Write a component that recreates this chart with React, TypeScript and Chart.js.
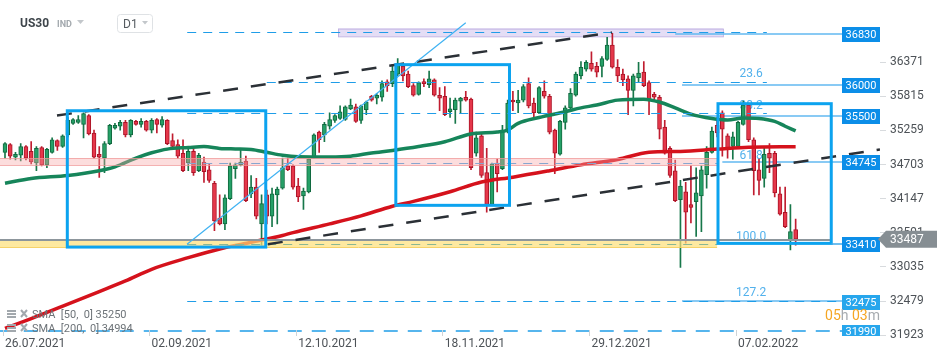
import React, { useEffect, useRef } from 'react';
import { Chart, registerables } from 'chart.js';

Chart.register(...registerables);

// ---------- daily candles (US30, D1) ----------
const openPrices = [
  34902, 35028, 34823, 34854, 34996, 34917, 34728, 34980, 34697, 34902,
  35091, 34996, 35185, 35374, 35390, 35358, 35500, 35217, 34870, 34807,
  35043, 35295, 35327, 35390, 35185, 35406, 35358, 35406, 35264, 35437,
  35343, 35421, 35091, 35028, 34886, 34728, 34917, 34602, 34744, 34618,
  34398, 33831, 33736, 34146, 34634, 34697, 34760, 34224, 34335, 33736,
  34209, 33862, 34209, 34319, 34681, 34681, 34350, 34193, 34256, 34823,
  35232, 35185, 35327, 35421, 35453, 35437, 35610, 35642, 35421, 35595,
  35815, 35784, 35799, 36051, 36020, 36177, 36303, 36177, 35988, 35847,
  36051, 36004, 36083, 35831, 35815, 35563, 35595, 35736, 35799, 35768,
  34886, 35169, 34571, 34051, 34728, 34634, 35248, 35752, 35705, 35752,
  36020, 35705, 35547, 35894, 35815, 35264, 34870, 35390, 35626, 35831,
  36146, 36256, 36351, 36303, 36303, 36414, 36650, 36288, 36177, 36099,
  35910, 36114, 36209, 36036, 35847, 35799, 35311, 34965, 34602, 34130,
  34256, 34051, 34098, 34193, 34539, 34902, 35343, 35547, 35169, 34996,
  34996, 35358, 35673, 35106, 34618, 34476, 34886, 34886, 34224, 33925, 33468, 33642,
];
const highPrices = [
  35059, 35043, 34902, 35043, 35012, 35075, 34996, 34996, 34965, 35138,
  35106, 35185, 35469, 35453, 35500, 35547, 35516, 35264, 34996, 35075,
  35358, 35374, 35421, 35421, 35437, 35421, 35453, 35421, 35453, 35453,
  35484, 35437, 35201, 35106, 35106, 34949, 34996, 34886, 34823, 34713,
  34429, 34209, 34209, 34728, 34728, 34965, 34839, 34524, 34476, 34209,
  34287, 34319, 34335, 34807, 34807, 34697, 34476, 34319, 34807, 35201,
  35248, 35390, 35547, 35516, 35658, 35658, 35768, 35689, 35673, 35736,
  35831, 35862, 36067, 36083, 36335, 36429, 36335, 36225, 36020, 36051,
  36099, 36225, 36099, 35957, 35973, 35784, 35784, 35799, 35894, 35784,
  35232, 35217, 34965, 34728, 34791, 35343, 35752, 35894, 35910, 36004,
  36114, 35784, 35973, 36067, 35847, 35280, 35421, 35658, 35941, 36209,
  36382, 36398, 36540, 36366, 36461, 36776, 36839, 36414, 36256, 36146,
  36177, 36366, 36382, 36067, 35878, 35831, 35421, 34996, 34776, 34445,
  34413, 34681, 34650, 34681, 34996, 35311, 35469, 35579, 35201, 35232,
  35406, 35736, 35705, 35138, 34791, 34965, 35043, 34917, 34335, 34335, 34051, 33815,
];
const lowPrices = [
  34807, 34791, 34776, 34760, 34776, 34713, 34602, 34681, 34650, 34886,
  34933, 34980, 35154, 35358, 35374, 35138, 35185, 34807, 34492, 34571,
  35028, 35280, 35264, 35154, 35154, 35343, 35311, 35248, 35217, 35217,
  35311, 35028, 34949, 34807, 34587, 34602, 34524, 34587, 34413, 34413,
  33626, 33720, 33642, 34130, 34476, 34681, 34098, 34161, 33815, 33390,
  33736, 33689, 33736, 34303, 34602, 34303, 34098, 33972, 34240, 34807,
  34902, 35075, 35280, 35390, 35437, 35421, 35595, 35390, 35374, 35516,
  35736, 35689, 35736, 35894, 35973, 36146, 36067, 35957, 35815, 35831,
  35973, 35957, 35815, 35579, 35500, 35469, 35374, 35547, 35736, 34618,
  34839, 34492, 33925, 34035, 34256, 34618, 35217, 35579, 35547, 35721,
  35626, 35469, 35532, 35784, 35201, 34555, 34854, 35280, 35610, 35815,
  36099, 36225, 36225, 36130, 36130, 36398, 36272, 36051, 35988, 35516,
  35658, 36051, 35973, 35516, 35736, 35122, 34870, 34492, 34098, 33027,
  33421, 33752, 33531, 33610, 34319, 34886, 35154, 34839, 34807, 34791,
  34965, 35343, 35075, 34209, 34209, 34335, 34571, 34177, 33878, 33673, 33311, 33390,
];
const closePrices = [
  35043, 34839, 34870, 34996, 34807, 34744, 34965, 34697, 34949, 35106,
  34996, 35169, 35421, 35437, 35437, 35532, 35201, 34823, 34823, 35043,
  35343, 35343, 35390, 35185, 35421, 35358, 35406, 35264, 35421, 35358,
  35437, 35043, 34996, 34839, 34602, 34917, 34571, 34854, 34587, 34445,
  33783, 33736, 34161, 34681, 34697, 34744, 34114, 34335, 33862, 34067,
  33862, 34224, 34303, 34650, 34618, 34335, 34177, 34272, 34791, 35185,
  35106, 35358, 35437, 35500, 35563, 35642, 35673, 35406, 35658, 35721,
  35752, 35831, 36020, 35988, 36225, 36335, 36146, 35973, 35831, 36036,
  36020, 36099, 35831, 35784, 35516, 35610, 35752, 35784, 35752, 34650,
  35138, 34524, 34051, 34713, 34555, 35232, 35705, 35721, 35752, 35973,
  35658, 35547, 35957, 35815, 35232, 34886, 35406, 35626, 35862, 36177,
  36288, 36366, 36256, 36209, 36429, 36650, 36288, 36146, 36083, 35910,
  36146, 36193, 35988, 35752, 35799, 35280, 34886, 34524, 34114, 34350,
  33925, 34004, 34240, 34618, 34902, 35248, 35217, 35280, 34949, 35154,
  35390, 35673, 35106, 34602, 34445, 34870, 34807, 34240, 33894, 33689, 33610, 33487,
];

// ---------- axes ----------
const xTickIndex = [0, 28, 56, 84, 112, 140];
const xTickLabels = ['26.07.2021', '02.09.2021', '12.10.2021', '18.11.2021', '29.12.2021', '07.02.2022'];
const yTickValues = [31923, 32479, 33035, 33591, 34147, 34703, 35259, 35815, 36371];

// ---------- moving averages (sampled readings) ----------
const sma50Index = [0, 5, 12, 18, 21, 25, 28, 31, 35, 38, 41, 44, 47, 50, 53, 56, 62, 66, 70, 74, 79, 84, 89, 94, 96, 98, 102, 107, 110, 113, 117, 122, 125, 128, 131, 135, 138, 141, 144, 147, 149, 151];
const sma50Values = [34398, 34476, 34524, 34602, 34665, 34807, 34894, 34954, 34980, 34996, 34965, 34957, 34949, 34902, 34854, 34831, 34827, 34839, 34891, 34933, 34996, 35075, 35201, 35232, 35264, 35374, 35469, 35563, 35626, 35673, 35752, 35768, 35721, 35626, 35524, 35453, 35429, 35461, 35453, 35406, 35327, 35250];
const sma200Index = [0, 5, 12, 18, 23, 28, 35, 41, 47, 53, 55, 62, 68, 74, 78, 85, 91, 97, 104, 110, 117, 123, 129, 136, 142, 151];
const sma200Values = [32035, 32193, 32429, 32634, 32807, 32996, 33185, 33327, 33437, 33547, 33594, 33736, 33867, 34024, 34103, 34260, 34418, 34497, 34602, 34697, 34786, 34902, 34917, 34954, 34985, 34994];
const smaLegend = ['SMA  [50,  0] 35250', 'SMA  [200,  0] 34994'];

// ---------- drawings (bar index, price) ----------
const tagPrices = [36830, 36000, 35500, 34745, 33410, 32475, 31990];
const fibLinePrices = [36830, 36000, 35500, 34745, 32475];
const fibLineStart = [128.0, 129.3, 129.3, 137.0, 129.3];
const fibLabels = ['23.6', '38.2', '61.8', '100.0', '127.2'];
const fibLabelPrices = [36130, 35610, 34799, 33476, 32555];
const dashedPrices = [36862, 36046, 35543, 34724, 33405, 32484, 31988];
const dashedFrom = [34.8, 50, 34.8, 34.8, 34.8, 34.8, -1];
const dashedTo = [145.5, 145.5, 145.5, 136, 136, 159.9, 159.9];
const boxStart = [11.9, 74.64, 136.17];
const boxEnd = [49.8, 96.35, 157.8];
const boxTop = [35579, 36330, 35694];
const boxBottom = [33358, 34038, 33418];
const pinkBand = [-1, 136, 34807, 34689];
const yellowBand = [-1, 136, 33473, 33358];
const grayLine = [-1, 157.8, 33473];
const lavenderBox = [63.6, 137.1, 36918, 36792];
const channelUpper = [9.93, 35500, 115.9, 36855];
const channelLower = [50.2, 33405, 167.1, 34949];
const trendLine = [34.76, 33405, 88.0, 37012];
const lastPrice = 33487;

const X_MIN = -0.955;
const X_MAX = 167.11;
const Y_MIN = 31909;
const Y_MAX = 37201;

const FONT = 'Roboto, "Noto Sans", sans-serif';

function hline(ctx: any, x1: number, x2: number, y: number, color: string, width: number, dash: number[]) {
  ctx.save();
  ctx.strokeStyle = color;
  ctx.lineWidth = width;
  ctx.setLineDash(dash);
  ctx.beginPath();
  const yy = Math.round(y) + (width % 2 === 1 ? 0.5 : 0);
  ctx.moveTo(x1, yy);
  ctx.lineTo(x2, yy);
  ctx.stroke();
  ctx.restore();
}

const overlayPlugin = {
  id: 'overlay',
  beforeDatasetsDraw(chart: any) {
    const { ctx, chartArea: a } = chart;
    const X = (v: number) => chart.scales.x.getPixelForValue(v);
    const Y = (v: number) => chart.scales.y.getPixelForValue(v);
    ctx.save();
    ctx.beginPath();
    ctx.rect(a.left, a.top, a.right - a.left, a.bottom - a.top);
    ctx.clip();
    // lavender zone
    const [l0, l1, lp0, lp1] = lavenderBox;
    ctx.fillStyle = 'rgba(210, 198, 238, 0.6)';
    ctx.fillRect(X(l0), Y(lp0), X(l1) - X(l0), Y(lp1) - Y(lp0));
    ctx.strokeStyle = '#c0b2e2';
    ctx.lineWidth = 1;
    ctx.strokeRect(X(l0) + 0.5, Y(lp0) + 0.5, X(l1) - X(l0), Y(lp1) - Y(lp0));
    // fibonacci levels
    fibLinePrices.forEach((p, k) => {
      hline(ctx, X(fibLineStart[k]), a.right - 38, Y(p), '#62b8f0', 1.5, []);
    });
    ctx.font = '12px ' + FONT;
    ctx.fillStyle = '#52b1ec';
    ctx.textAlign = 'center';
    ctx.textBaseline = 'alphabetic';
    fibLabels.forEach((t, k) => ctx.fillText(t, X(142.5), Y(fibLabelPrices[k])));
    ctx.restore();
  },
  afterDatasetsDraw(chart: any) {
    const { ctx, chartArea: a } = chart;
    const X = (v: number) => chart.scales.x.getPixelForValue(v);
    const Y = (v: number) => chart.scales.y.getPixelForValue(v);
    ctx.save();
    ctx.beginPath();
    ctx.rect(a.left, a.top, a.right - a.left, a.bottom - a.top);
    ctx.clip();

    // pink band
    {
      const [b0, b1, p0, p1] = pinkBand;
      ctx.fillStyle = 'rgba(246, 165, 165, 0.38)';
      ctx.fillRect(X(b0), Y(p0), X(b1) - X(b0), Y(p1) - Y(p0));
      hline(ctx, X(b0), X(b1), Y(p0), 'rgba(240,150,150,0.7)', 1, []);
      hline(ctx, X(b0), X(b1), Y(p1), 'rgba(240,150,150,0.7)', 1, []);
    }
    // yellow band
    {
      const [b0, b1, p0, p1] = yellowBand;
      ctx.fillStyle = 'rgba(253, 224, 120, 0.7)';
      ctx.fillRect(X(b0), Y(p0), X(b1) - X(b0), Y(p1) - Y(p0));
      hline(ctx, X(b0), X(b1), Y(p1), 'rgba(245,205,90,0.9)', 1, []);
    }
    // gray 100% line
    hline(ctx, X(grayLine[0]), X(grayLine[1]), Y(grayLine[2]), '#8d969c', 2, []);

    // dashed levels
    dashedPrices.forEach((p, k) => {
      let color = '#1f9de8';
      if (k === 3) color = '#86a6cf';
      if (k === 4) color = '#8ab793';
      const dash = k === 6 ? [14, 10] : [9, 7];
      const w = k === 6 ? 1.5 : 1;
      hline(ctx, X(dashedFrom[k]), X(dashedTo[k]), Y(p), color, w, dash);
    });

    // channel lines
    const seg = (s: number[], color: string, width: number, dash: number[]) => {
      ctx.save();
      ctx.strokeStyle = color;
      ctx.lineWidth = width;
      ctx.setLineDash(dash);
      ctx.beginPath();
      ctx.moveTo(X(s[0]), Y(s[1]));
      ctx.lineTo(X(s[2]), Y(s[3]));
      ctx.stroke();
      ctx.restore();
    };
    seg(channelUpper, '#2b3036', 2.5, [15, 13]);
    seg(channelLower, '#2b3036', 2.5, [15, 13]);
    seg(trendLine, '#3fb2f2', 1.2, []);

    // boxes
    ctx.strokeStyle = '#0ca3ef';
    ctx.lineWidth = 3;
    boxStart.forEach((b, k) => {
      ctx.strokeRect(X(b), Y(boxTop[k]), X(boxEnd[k]) - X(b), Y(boxBottom[k]) - Y(boxTop[k]));
    });

    // short connectors into the 33410 tag
    hline(ctx, X(157.8), a.right - 38, Y(33410), '#3ea8ea', 1.5, []);

    // price tags
    ctx.font = '11px ' + FONT;
    ctx.textAlign = 'center';
    ctx.textBaseline = 'middle';
    tagPrices.forEach((p, k) => {
      const py = Y(p) + 1;
      ctx.fillStyle = k >= 5 ? '#27a6ec' : '#0c8ee8';
      ctx.fillRect(a.right - 38, Math.round(py - 7.5), 38, 15);
      ctx.fillStyle = '#ffffff';
      ctx.fillText(String(p), a.right - 19, py + 0.5);
    });
    ctx.restore();

    // current price tag (over the axis)
    const py = Y(lastPrice);
    ctx.save();
    ctx.fillStyle = '#868e93';
    ctx.beginPath();
    ctx.moveTo(a.right - 2, py);
    ctx.lineTo(a.right + 6, py - 8.5);
    ctx.lineTo(a.right + 57, py - 8.5);
    ctx.lineTo(a.right + 57, py + 8.5);
    ctx.lineTo(a.right + 6, py + 8.5);
    ctx.closePath();
    ctx.fill();
    ctx.fillStyle = '#ffffff';
    ctx.font = '12px ' + FONT;
    ctx.textAlign = 'left';
    ctx.textBaseline = 'middle';
    ctx.fillText(String(lastPrice), a.right + 10, py + 1);
    ctx.restore();
  },
  afterDraw(chart: any) {
    const { ctx, chartArea: a } = chart;
    const X = (v: number) => chart.scales.x.getPixelForValue(v);
    ctx.save();
    // x tick marks
    ctx.strokeStyle = '#cfd3d6';
    ctx.lineWidth = 1;
    xTickIndex.forEach((i) => {
      const xx = Math.round(X(i) - 2.5) + 0.5;
      ctx.beginPath();
      ctx.moveTo(xx, a.bottom - 6);
      ctx.lineTo(xx, a.bottom);
      ctx.stroke();
    });

    // header
    ctx.textBaseline = 'alphabetic';
    ctx.textAlign = 'left';
    ctx.font = 'bold 12px ' + FONT;
    ctx.fillStyle = '#3e454b';
    ctx.fillText('US30', 20, 27);
    ctx.font = 'bold 9px ' + FONT;
    ctx.fillStyle = '#a3a9ae';
    ctx.fillText('IND', 57, 27);
    ctx.fillStyle = '#c3c7cb';
    ctx.beginPath();
    ctx.moveTo(77, 20); ctx.lineTo(84, 20); ctx.lineTo(80.5, 24); ctx.closePath(); ctx.fill();
    ctx.strokeStyle = '#dfe2e5';
    ctx.beginPath();
    (ctx as any).roundRect(117.5, 14.5, 35, 18, 3);
    ctx.stroke();
    ctx.font = '12px ' + FONT;
    ctx.fillStyle = '#555b60';
    ctx.fillText('D1', 123, 28);
    ctx.fillStyle = '#c3c7cb';
    ctx.beginPath();
    ctx.moveTo(142, 21); ctx.lineTo(148, 21); ctx.lineTo(145, 24.5); ctx.closePath(); ctx.fill();

    // SMA legend
    smaLegend.forEach((t, k) => {
      const yy = 309 + k * 14;
      ctx.fillStyle = '#a2a8ad';
      ctx.fillRect(7, yy + 1, 9, 2);
      ctx.fillRect(7, yy + 4, 9, 2);
      ctx.fillRect(7, yy + 7, 9, 2);
      ctx.strokeStyle = '#a2a8ad';
      ctx.lineWidth = 2;
      ctx.beginPath();
      ctx.moveTo(21, yy + 1); ctx.lineTo(27, yy + 8);
      ctx.moveTo(27, yy + 1); ctx.lineTo(21, yy + 8);
      ctx.stroke();
      ctx.font = '11px ' + FONT;
      ctx.fillStyle = '#6d7378';
      ctx.fillText(t, 32, yy + 8.5);
    });

    // countdown
    const parts: [string, string][] = [['05', '#f5a623'], ['h ', '#a6abaf'], ['03', '#f5a623'], ['m', '#a6abaf']];
    ctx.font = '14px ' + FONT;
    const total = parts.reduce((s, p) => s + ctx.measureText(p[0]).width, 0);
    let cx = a.right - total;
    parts.forEach(([t, c]) => {
      ctx.fillStyle = c;
      ctx.fillText(t, cx, 320);
      cx += ctx.measureText(t).width;
    });
    ctx.restore();
  },
};

export default function App() {
  const ref = useRef<HTMLCanvasElement | null>(null);
  useEffect(() => {
    if (!ref.current) return;
    const n = openPrices.length;
    const idx = Array.from({ length: n }, (_, i) => i);
    const up = idx.map((i) => closePrices[i] >= openPrices[i]);
    const chart = new Chart(ref.current, {
      type: 'bar',
      data: {
        datasets: [
          {
            type: 'line',
            label: 'SMA 50',
            data: sma50Index.map((i, k) => ({ x: i, y: sma50Values[k] })),
            borderColor: '#16855a',
            borderWidth: 3.5,
            pointRadius: 0,
            cubicInterpolationMode: 'monotone',
            order: 0,
          } as any,
          {
            type: 'line',
            label: 'SMA 200',
            data: sma200Index.map((i, k) => ({ x: i, y: sma200Values[k] })),
            borderColor: '#d5121c',
            borderWidth: 3.5,
            pointRadius: 0,
            cubicInterpolationMode: 'monotone',
            order: 0,
          } as any,
          {
            type: 'bar',
            label: 'body',
            data: idx.map((i) => ({ x: i, y: [openPrices[i], closePrices[i]] })),
            backgroundColor: up.map((u) => (u ? '#25a067' : '#e5374a')),
            borderColor: up.map((u) => (u ? '#11693f' : '#aa1427')),
            borderWidth: 1,
            borderSkipped: false,
            barThickness: 4,
            minBarLength: 2,
            grouped: false,
            order: 1,
          } as any,
          {
            type: 'bar',
            label: 'wick',
            data: idx.map((i) => ({ x: i, y: [lowPrices[i], highPrices[i]] })),
            backgroundColor: up.map((u) => (u ? '#17774a' : '#c01d30')),
            borderWidth: 0,
            barThickness: 1,
            grouped: false,
            order: 2,
          } as any,
        ],
      },
      options: {
        animation: false,
        responsive: false,
        maintainAspectRatio: false,
        events: [],
        layout: { padding: 0 },
        plugins: { legend: { display: false }, tooltip: { enabled: false } },
        scales: {
          x: {
            type: 'linear',
            min: X_MIN,
            max: X_MAX,
            offset: false,
            grid: { display: false, drawTicks: false, offset: false },
            border: { display: false },
            afterBuildTicks: (s: any) => {
              s.ticks = xTickIndex.map((v) => ({ value: v }));
            },
            afterFit: (s: any) => {
              s.height = 24;
            },
            ticks: {
              autoSkip: false,
              maxRotation: 0,
              minRotation: 0,
              align: 'start',
              padding: 1,
              color: '#4d5257',
              font: { family: FONT, size: 12 },
              callback: (v: any) => {
                const k = xTickIndex.indexOf(Number(v));
                return k >= 0 ? xTickLabels[k] : '';
              },
            },
          },
          y: {
            type: 'linear',
            position: 'right',
            min: Y_MIN,
            max: Y_MAX,
            grid: { drawOnChartArea: false, drawTicks: true, tickLength: 6, color: '#d8dbde' },
            border: { display: false },
            afterBuildTicks: (s: any) => {
              s.ticks = yTickValues.map((v) => ({ value: v }));
            },
            afterFit: (s: any) => {
              s.width = 70;
            },
            ticks: {
              padding: 4,
              color: '#4d5257',
              font: { family: FONT, size: 12 },
              callback: (v: any) => String(v),
            },
          },
        } as any,
      },
      plugins: [overlayPlugin as any],
    });
    return () => chart.destroy();
  }, []);
  return (
    <div style={{ position: 'absolute', left: 0, top: 0, width: 950, height: 360, background: '#ffffff' }}>
      <canvas ref={ref} width={950} height={360} style={{ display: 'block', width: 950, height: 360 }} />
    </div>
  );
}
